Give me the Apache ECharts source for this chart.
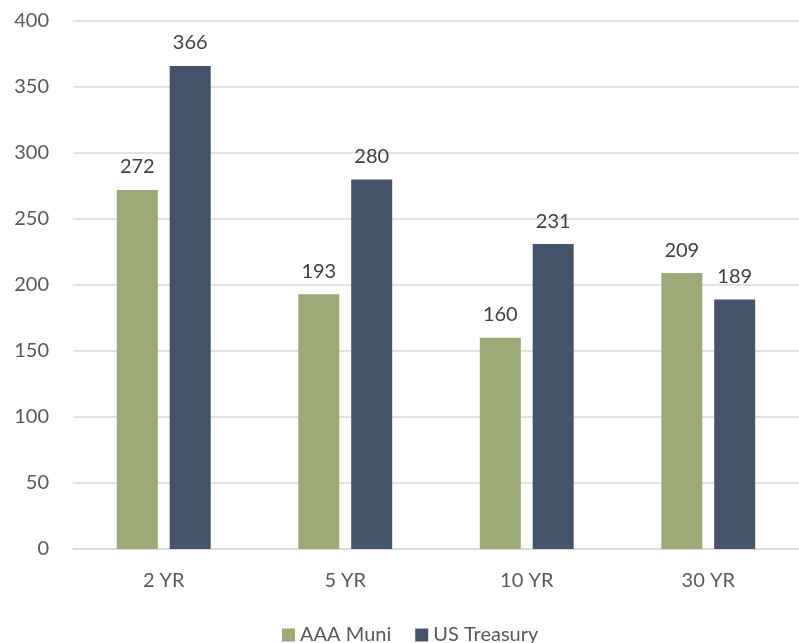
<!DOCTYPE html>
<html>
<head>
<meta charset="utf-8">
<script src="https://cdn.jsdelivr.net/npm/echarts@6/dist/echarts.min.js"></script>
<style>
  html, body { margin: 0; padding: 0; background: #fff; }
  #main { width: 799px; height: 643px; }
</style>
</head>
<body>
<div id="main"></div>
<script>
var categories = ['2 YR', '5 YR', '10 YR', '30 YR'];
var muniValues = [272, 193, 160, 209];
var treasuryValues = [366, 280, 231, 189];
var yTicks = [0, 400, 50];

var chart = echarts.init(document.getElementById('main'));

var font = 'Lato, "Open Sans", sans-serif';

function barSeries(name, data, color) {
    return {
        name: name,
        type: 'bar',
        data: data,
        barWidth: 41,
        barGap: '29%',
        itemStyle: { color: color },
        label: {
            show: true,
            position: 'top',
            distance: 13,
            color: '#404040',
            fontSize: 20,
            fontFamily: font
        }
    };
}

chart.setOption({
    animation: false,
    textStyle: { fontFamily: font },
    grid: { left: 73, top: 21, width: 734, bottom: 94, containLabel: false },
    legend: {
        left: 277,
        top: 620,
        itemWidth: 13,
        itemHeight: 13,
        itemGap: 24,
        icon: 'rect',
        textStyle: { color: '#595959', fontSize: 20, fontFamily: font },
        data: ['AAA Muni', 'US Treasury']
    },
    xAxis: {
        type: 'category',
        data: categories,
        axisLine: { lineStyle: { color: '#d9d9d9', width: 1.5 } },
        axisTick: { show: false },
        axisLabel: { color: '#595959', fontSize: 20, fontFamily: font, margin: 22 }
    },
    yAxis: {
        type: 'value',
        min: yTicks[0],
        max: yTicks[1],
        interval: yTicks[2],
        axisLine: { show: false },
        axisTick: { show: false },
        splitLine: { lineStyle: { color: '#d9d9d9', width: 1.5 } },
        axisLabel: { color: '#595959', fontSize: 20, fontFamily: font, margin: 24 }
    },
    series: [
        barSeries('AAA Muni', muniValues, '#9BAA76'),
        barSeries('US Treasury', treasuryValues, '#44546A')
    ]
});
</script>
</body>
</html>
